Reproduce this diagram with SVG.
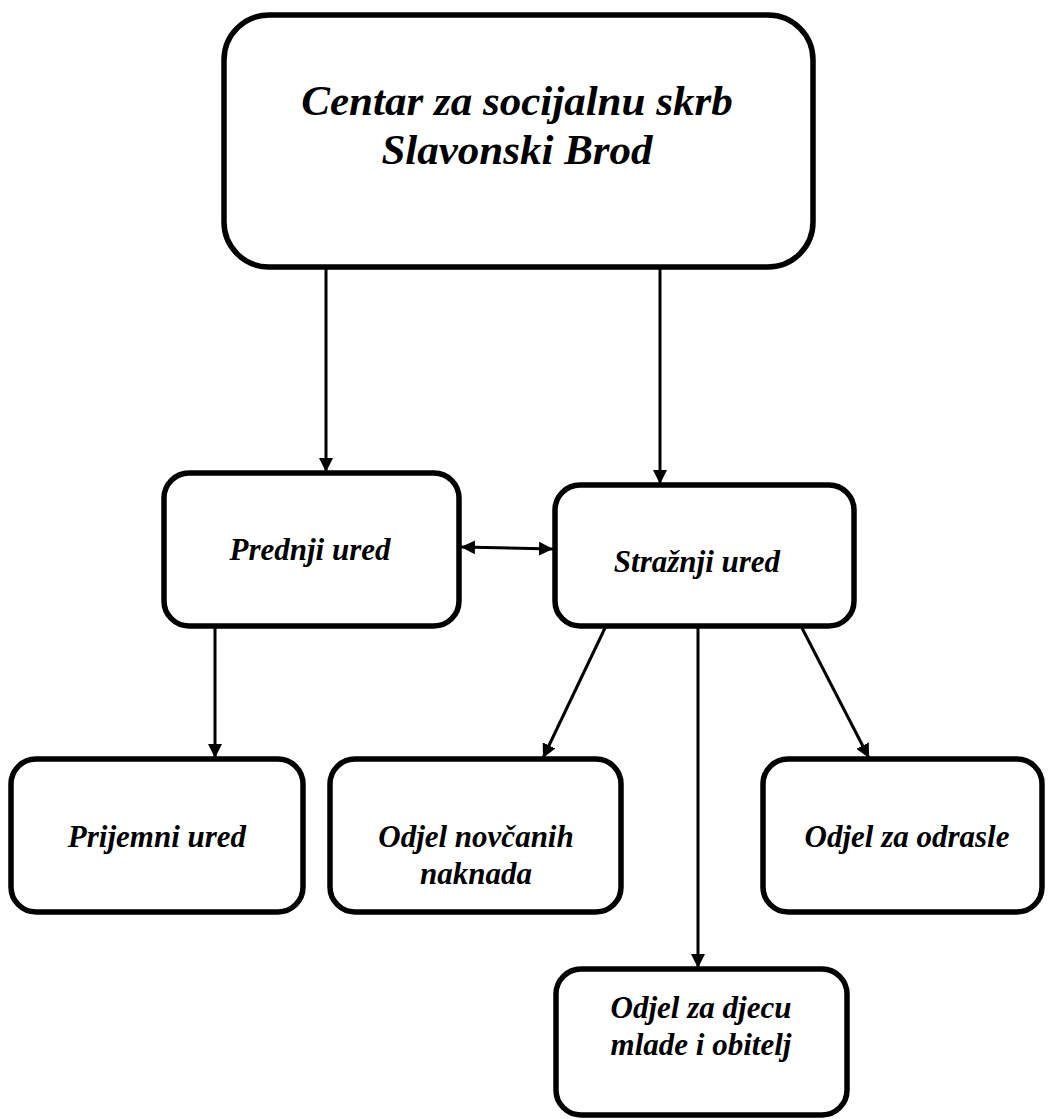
<svg xmlns="http://www.w3.org/2000/svg" width="1048" height="1119" viewBox="0 0 1048 1119">
<style>
.box{fill:#fff;stroke:#000;stroke-width:5.5}
.t{font-family:"Liberation Serif","Times New Roman",serif;font-weight:bold;font-style:italic;fill:#000;text-anchor:middle}
.big{font-size:43px}
.mid{font-size:31px}
.sm{font-size:31px}
.c{stroke:#000;stroke-width:3;fill:none}
</style>
<defs>
<marker id="ah" viewBox="0 0 14 14" refX="14" refY="7" markerWidth="14" markerHeight="14" markerUnits="userSpaceOnUse" orient="auto-start-reverse">
<path d="M0,0 L14,7 L0,14 Z" fill="#000"/>
</marker>
</defs>
<g id="connectors">
<line class="c" x1="326" y1="268" x2="326" y2="472" marker-end="url(#ah)"/>
<line class="c" x1="660" y1="268" x2="660" y2="484" marker-end="url(#ah)"/>
<line class="c" x1="461" y1="547" x2="553" y2="549" marker-start="url(#ah)" marker-end="url(#ah)"/>
<line class="c" x1="215" y1="628" x2="215" y2="758" marker-end="url(#ah)"/>
<line class="c" x1="605" y1="628" x2="543" y2="758" marker-end="url(#ah)"/>
<line class="c" x1="802" y1="628" x2="869" y2="758" marker-end="url(#ah)"/>
<line class="c" x1="698" y1="628" x2="698" y2="968" marker-end="url(#ah)"/>
</g>
<g id="centar">
<rect class="box" x="224" y="15" width="589" height="252" rx="45"/>
<text class="t big" x="517" y="115">Centar za socijalnu skrb</text>
<text class="t big" x="517" y="164">Slavonski Brod</text>
</g>
<g id="prednji">
<rect class="box" x="164" y="473" width="295" height="153" rx="25"/>
<text class="t mid" x="310" y="560">Prednji ured</text>
</g>
<g id="straznji">
<rect class="box" x="555" y="485" width="299" height="141" rx="25"/>
<text class="t mid" x="697" y="572">Stražnji ured</text>
</g>
<g id="prijemni">
<rect class="box" x="11" y="759" width="292" height="153" rx="25"/>
<text class="t sm" x="157" y="847">Prijemni ured</text>
</g>
<g id="novcanih">
<rect class="box" x="330" y="759" width="291" height="153" rx="25"/>
<text class="t sm" x="476" y="847">Odjel novčanih</text>
<text class="t sm" x="476" y="884">naknada</text>
</g>
<g id="odrasle">
<rect class="box" x="763" y="759" width="279" height="153" rx="25"/>
<text class="t sm" x="907" y="847">Odjel za odrasle</text>
</g>
<g id="djecu">
<rect class="box" x="556" y="969" width="291" height="146" rx="25"/>
<text class="t sm" x="701" y="1018">Odjel za djecu</text>
<text class="t sm" x="701" y="1055">mlade i obitelj</text>
</g>
</svg>
